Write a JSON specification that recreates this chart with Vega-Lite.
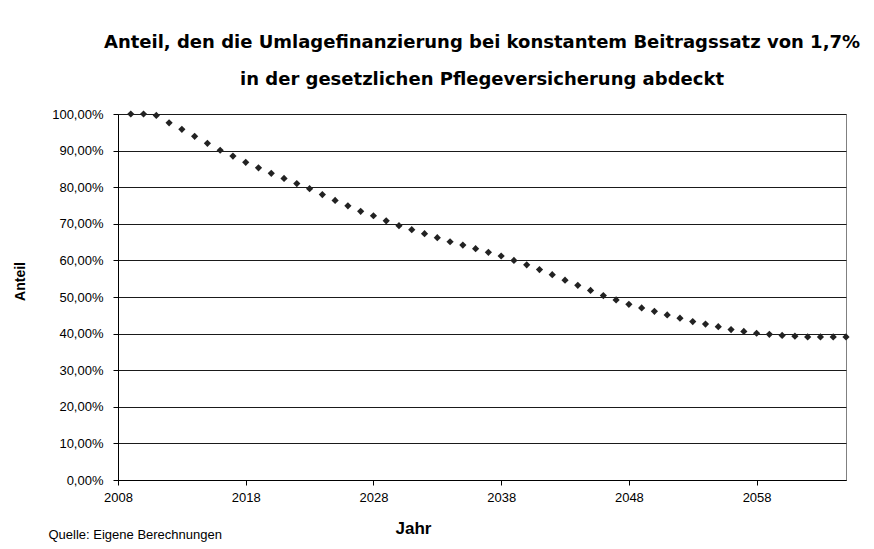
{
  "$schema": "https://vega.github.io/schema/vega-lite/v6.json",
  "width": 728,
  "height": 366,
  "autosize": "none",
  "padding": {"left": 118, "top": 114, "right": 28, "bottom": 69},
  "background": "#ffffff",
  "title": {
    "text": ["Anteil, den die Umlagefinanzierung bei konstantem Beitragssatz von 1,7%", "in der gesetzlichen Pflegeversicherung abdeckt"],
    "font": "DejaVu Sans",
    "fontSize": 18,
    "fontWeight": "bold",
    "color": "#000000",
    "anchor": "middle",
    "lineHeight": 37,
    "offset": 19
  },
  "config": {
    "view": {"stroke": "#808080", "strokeWidth": 1},
    "axis": {
      "labelFont": "Liberation Sans",
      "titleFont": "Liberation Sans",
      "labelColor": "#000000",
      "titleColor": "#000000",
      "domainColor": "#000000",
      "tickColor": "#000000"
    }
  },
  "data": {
    "values": [
      {"Jahr": 2009, "Anteil": 100},
      {"Jahr": 2010, "Anteil": 100},
      {"Jahr": 2011, "Anteil": 99.6},
      {"Jahr": 2012, "Anteil": 97.6},
      {"Jahr": 2013, "Anteil": 95.8},
      {"Jahr": 2014, "Anteil": 93.9},
      {"Jahr": 2015, "Anteil": 92.0},
      {"Jahr": 2016, "Anteil": 90.1},
      {"Jahr": 2017, "Anteil": 88.5},
      {"Jahr": 2018, "Anteil": 86.8},
      {"Jahr": 2019, "Anteil": 85.3},
      {"Jahr": 2020, "Anteil": 83.8},
      {"Jahr": 2021, "Anteil": 82.4},
      {"Jahr": 2022, "Anteil": 81.0},
      {"Jahr": 2023, "Anteil": 79.6},
      {"Jahr": 2024, "Anteil": 78.0},
      {"Jahr": 2025, "Anteil": 76.4},
      {"Jahr": 2026, "Anteil": 74.9},
      {"Jahr": 2027, "Anteil": 73.4},
      {"Jahr": 2028, "Anteil": 72.2},
      {"Jahr": 2029, "Anteil": 70.8},
      {"Jahr": 2030, "Anteil": 69.5},
      {"Jahr": 2031, "Anteil": 68.4},
      {"Jahr": 2032, "Anteil": 67.3},
      {"Jahr": 2033, "Anteil": 66.2},
      {"Jahr": 2034, "Anteil": 65.1},
      {"Jahr": 2035, "Anteil": 64.2},
      {"Jahr": 2036, "Anteil": 63.2},
      {"Jahr": 2037, "Anteil": 62.2},
      {"Jahr": 2038, "Anteil": 61.2},
      {"Jahr": 2039, "Anteil": 60.0},
      {"Jahr": 2040, "Anteil": 58.8},
      {"Jahr": 2041, "Anteil": 57.5},
      {"Jahr": 2042, "Anteil": 56.1},
      {"Jahr": 2043, "Anteil": 54.6},
      {"Jahr": 2044, "Anteil": 53.2},
      {"Jahr": 2045, "Anteil": 51.8},
      {"Jahr": 2046, "Anteil": 50.4},
      {"Jahr": 2047, "Anteil": 49.2},
      {"Jahr": 2048, "Anteil": 48.0},
      {"Jahr": 2049, "Anteil": 47.0},
      {"Jahr": 2050, "Anteil": 46.1},
      {"Jahr": 2051, "Anteil": 45.1},
      {"Jahr": 2052, "Anteil": 44.2},
      {"Jahr": 2053, "Anteil": 43.3},
      {"Jahr": 2054, "Anteil": 42.6},
      {"Jahr": 2055, "Anteil": 41.9},
      {"Jahr": 2056, "Anteil": 41.1},
      {"Jahr": 2057, "Anteil": 40.6},
      {"Jahr": 2058, "Anteil": 40.1},
      {"Jahr": 2059, "Anteil": 39.8},
      {"Jahr": 2060, "Anteil": 39.5},
      {"Jahr": 2061, "Anteil": 39.3},
      {"Jahr": 2062, "Anteil": 39.1},
      {"Jahr": 2063, "Anteil": 39.1},
      {"Jahr": 2064, "Anteil": 39.1},
      {"Jahr": 2065, "Anteil": 39.1}
    ]
  },
  "encoding": {
    "y": {
      "field": "Anteil",
      "type": "quantitative",
      "scale": {"domain": [0, 100], "nice": false},
      "axis": {
        "title": "Anteil",
        "titleFontSize": 14,
        "titleFontWeight": "bold",
        "titleX": -98,
        "titleY": 167,
        "titleAngle": -90,
        "titleAlign": "center",
        "titleBaseline": "middle",
        "values": [0, 10, 20, 30, 40, 50, 60, 70, 80, 90, 100],
        "labelExpr": "replace(format(datum.value, '.2f'), '.', ',') + '%'",
        "labelFontSize": 13,
        "labelPadding": 10,
        "tickSize": 5,
        "grid": true,
        "gridColor": "#1a1a1a",
        "gridWidth": 1,
        "gridOpacity": 1,
        "labelOverlap": false,
        "labelFlush": false
      }
    }
  },
  "layer": [
    {
      "mark": {"type": "point", "shape": "diamond", "filled": true, "size": 52, "color": "#222222", "opacity": 1, "clip": false},
      "encoding": {
        "x": {
          "field": "Jahr",
          "type": "quantitative",
          "scale": {"domain": [2008, 2065], "nice": false, "zero": false},
          "axis": {
            "title": "Jahr",
            "titleFontSize": 17,
            "titleFontWeight": "bold",
            "titleX": 295,
            "titleY": 48,
            "titleAlign": "center",
            "titleBaseline": "middle",
            "values": [2008, 2018, 2028, 2038, 2048, 2058],
            "format": "d",
            "labelFontSize": 13,
            "labelPadding": 6,
            "tickSize": 5,
            "grid": false,
            "labelFlush": false,
            "labelOverlap": false
          }
        }
      }
    },
    {
      "mark": {"type": "point", "opacity": 0},
      "encoding": {
        "x": {
          "field": "Jahr",
          "type": "quantitative",
          "axis": {
            "orient": "bottom",
            "title": "Quelle: Eigene Berechnungen",
            "titleFontSize": 13,
            "titleFontWeight": "normal",
            "titleX": -70,
            "titleY": 54,
            "titleAlign": "left",
            "titleBaseline": "middle",
            "labels": false,
            "ticks": false,
            "domain": false,
            "grid": false
          }
        }
      }
    }
  ],
  "resolve": {"axis": {"x": "independent"}}
}
